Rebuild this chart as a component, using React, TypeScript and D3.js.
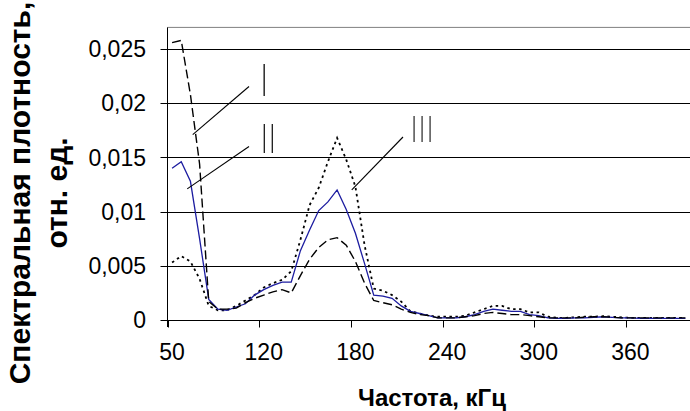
import React from "react";
import * as d3 from "d3";

// Series values (spectral density, rel. units) per category
const seriesI = [
  0.0256, 0.0258, 0.0208, 0.0144, 0.0017, 0.0010, 0.0010, 0.0011, 0.0016, 0.0020,
  0.0023, 0.0026, 0.0028, 0.0025, 0.0041, 0.0056, 0.0067, 0.0074, 0.0076, 0.0069,
  0.0054, 0.0034, 0.0018, 0.0016, 0.0014, 0.0010, 0.0007, 0.0005, 0.0004, 0.0002,
  0.0002, 0.0002, 0.0003, 0.0004, 0.0006, 0.0007, 0.0006, 0.0005, 0.0005, 0.0004,
  0.0003, 0.0002, 0.0002, 0.0002, 0.0002, 0.00025, 0.0003, 0.0003, 0.00025, 0.0002,
  0.0002, 0.0002, 0.0002, 0.0002, 0.0002, 0.0002, 0.0002,
];
const seriesII = [
  0.0140, 0.0146, 0.0128, 0.0075, 0.0019, 0.0010, 0.0009, 0.0012, 0.0015, 0.0023,
  0.0028, 0.0032, 0.0035, 0.0035, 0.0064, 0.0083, 0.0101, 0.0109, 0.0120, 0.0102,
  0.0080, 0.0052, 0.0023, 0.0022, 0.0020, 0.0013, 0.0008, 0.0006, 0.0004, 0.0002,
  0.0002, 0.0002, 0.0003, 0.0005, 0.0008, 0.0010, 0.0009, 0.0008, 0.0008, 0.0005,
  0.0004, 0.0002, 0.00015, 0.00015, 0.0002, 0.0002, 0.00025, 0.0003, 0.00025, 0.0002,
  0.0002, 0.00015, 0.00015, 0.00015, 0.00015, 0.00015, 0.00015,
];
const seriesIII = [
  0.0053, 0.0059, 0.0054, 0.0038, 0.0013, 0.0009, 0.0009, 0.0013, 0.0018, 0.0023,
  0.0030, 0.0034, 0.0037, 0.0045, 0.0074, 0.0106, 0.0122, 0.0146, 0.0168, 0.0148,
  0.0123, 0.0069, 0.0029, 0.0027, 0.0023, 0.0017, 0.0008, 0.0006, 0.0004, 0.0003,
  0.0003, 0.0003, 0.0004, 0.0007, 0.0010, 0.0013, 0.0013, 0.0010, 0.0010, 0.0007,
  0.0007, 0.0003, 0.0002, 0.0002, 0.00025, 0.0003, 0.0003, 0.00035, 0.0003, 0.00025,
  0.0002, 0.0002, 0.0002, 0.0002, 0.0002, 0.0002, 0.0002,
];

// Category axis labels: one label every 10 categories
const xTickLabels = ["50", "120", "180", "240", "300", "360"];
const xTickEvery = 10;
const yTicks = [0, 0.005, 0.01, 0.015, 0.02, 0.025];
const yTickLabels = ["0", "0,005", "0,01", "0,015", "0,02", "0,025"];
const yMax = 0.027;

const seriesLabels = ["I", "II", "III"];

const W = 690;
const H = 411;
const plot = { left: 167.5, right: 690, top: 27.4, bottom: 320 };
const FONT = "'Liberation Sans', Arial, sans-serif";

export default function App() {
  const n = seriesI.length;
  const x = d3.scaleLinear().domain([0, n]).range([plot.left, plot.right]);
  const y = d3.scaleLinear().domain([0, yMax]).range([plot.bottom, plot.top]);
  const line = d3
    .line<number>()
    .x((_, i) => x(i + 0.5))
    .y((d) => y(d));

  const boundaries = xTickLabels.map((_, k) => k * xTickEvery);

  // leader lines for series labels
  const leaders = [
    { from: [x(2.75), y(0.0171)], to: [249, 86.5], label: seriesLabels[0], lx: 264.3, top: 62.7, bot: 95.7 },
    { from: [x(2.15), y(0.0121)], to: [249, 146.5], label: seriesLabels[1], lx: 264.3, top: 122, bot: 152.7 },
    { from: [x(20.1), y(0.0120)], to: [403, 137], label: seriesLabels[2], lx: 414, top: 115, bot: 142 },
  ];

  return (
    <svg
      width={W}
      height={H}
      style={{ position: "absolute", left: 0, top: 0, display: "block", background: "#fff" }}
    >
      <defs>
        <filter id="mono" x="-20%" y="-20%" width="140%" height="140%">
          <feColorMatrix type="saturate" values="0" />
        </filter>
      </defs>
      <rect x={0} y={0} width={W} height={H} fill="#fff" />
      {/* plot border top */}
      <line x1={plot.left} x2={plot.right} y1={plot.top} y2={plot.top} stroke="#808080" strokeWidth={1} />
      {/* gridlines */}
      {yTicks.map((t) => (
        <line
          key={"g" + t}
          x1={plot.left - 7}
          x2={plot.right}
          y1={Math.round(y(t)) + 0.5}
          y2={Math.round(y(t)) + 0.5}
          stroke="#000"
          strokeWidth={1}
        />
      ))}
      {/* y axis */}
      <line x1={plot.left} x2={plot.left} y1={plot.top} y2={plot.bottom + 7} stroke="#000" strokeWidth={1} />
      {/* x ticks */}
      {boundaries.map((b) => (
        <line
          key={"xt" + b}
          x1={Math.round(x(b)) + 0.5}
          x2={Math.round(x(b)) + 0.5}
          y1={plot.bottom}
          y2={plot.bottom + 7.5}
          stroke="#000"
          strokeWidth={1}
        />
      ))}
      {/* y tick labels */}
      {yTicks.map((t, i) => (
        <text
          key={"yl" + t}
          x={146}
          y={y(t) + 8.2}
          textAnchor="end"
          fontFamily={FONT}
          fontSize={23}
          fill="#000"
        >
          {yTickLabels[i]}
        </text>
      ))}
      {/* x tick labels */}
      {xTickLabels.map((lab, k) => (
        <text
          key={"xl" + lab}
          x={x(k * xTickEvery + 0.5)}
          y={359.5}
          textAnchor="middle"
          fontFamily={FONT}
          fontSize={23}
          fill="#000"
        >
          {lab}
        </text>
      ))}
      {/* series */}
      <path d={line(seriesIII) || ""} fill="none" stroke="#000" strokeWidth={1.8} strokeDasharray="2.5 3.5" />
      <path d={line(seriesII) || ""} fill="none" stroke="#1c1ca0" strokeWidth={1.3} />
      <path d={line(seriesI) || ""} fill="none" stroke="#000" strokeWidth={1.4} strokeDasharray="9 4" />
      {/* leaders and labels */}
      {leaders.map((l, i) => {
        const fs = (l.bot - l.top) / 0.716;
        const sx = 0.3;
        const spacing = 8 / sx - 0.278 * fs;
        return (
          <g key={"ld" + i}>
            <line x1={l.from[0]} y1={l.from[1]} x2={l.to[0]} y2={l.to[1]} stroke="#000" strokeWidth={1.1} />
            <g filter="url(#mono)">
              <g transform={`translate(${l.lx - 0.14 * fs * sx},${l.bot}) scale(${sx},1)`}>
                <text x={0} y={0} fontFamily={FONT} fontSize={fs} letterSpacing={spacing} fill="#000">
                  {l.label}
                </text>
              </g>
            </g>
          </g>
        );
      })}
      {/* axis titles */}
      <text
        x={432}
        y={406}
        textAnchor="middle"
        fontFamily={FONT}
        fontSize={24}
        fontWeight="bold"
        fill="#000"
      >
        Частота, кГц
      </text>
      <g transform="translate(0,193) rotate(-90)">
        <text x={0} y={29.5} textAnchor="middle" fontFamily={FONT} fontSize={30} fontWeight="bold" fill="#000">
          Спектральная плотность,
        </text>
        <text x={0} y={66.5} textAnchor="middle" fontFamily={FONT} fontSize={30} fontWeight="bold" fill="#000">
          отн. ед.
        </text>
      </g>
    </svg>
  );
}
